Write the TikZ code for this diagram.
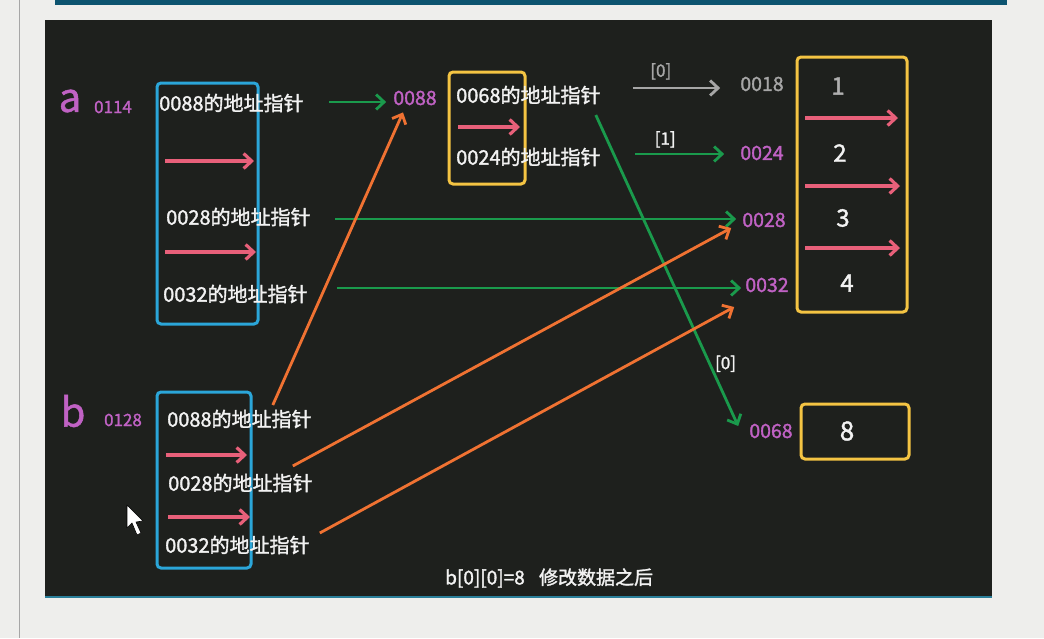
\documentclass[tikz,border=0pt]{standalone}
\usepackage{fontspec}
\setmainfont[FakeBold=1.6]{Noto Sans CJK SC}
\newfontfamily\plainfont[FakeBold=1.2]{Noto Sans CJK SC}
\usetikzlibrary{arrows.meta}
\definecolor{outerbg}{HTML}{EEEEEC}
\definecolor{panel}{HTML}{1E201D}
\definecolor{topbar}{HTML}{0D5470}
\definecolor{panelline}{HTML}{2A7F9A}
\definecolor{cyanb}{HTML}{2BA6D9}
\definecolor{yel}{HTML}{F4C443}
\definecolor{pinkc}{HTML}{E8607A}
\definecolor{grn}{HTML}{1A9A4C}
\definecolor{org}{HTML}{F07232}
\definecolor{mag}{HTML}{C062C4}
\definecolor{gry}{HTML}{A6A6A6}
\definecolor{wht}{HTML}{F2F2F2}
\begin{document}
\begin{tikzpicture}[x=1pt,y=-1pt,
  txt/.style={text=wht, font=\fontsize{20}{22}\selectfont, inner sep=0pt, anchor=west},
  addr/.style={text=mag, font=\fontsize{19.5}{22}\selectfont, inner sep=0pt},
  small/.style={text=mag, font=\fontsize{17}{19}\selectfont, inner sep=0pt},
  bigl/.style={text=mag, font=\plainfont\fontsize{40}{42}\selectfont, inner sep=0pt},
  num/.style={text=wht, font=\fontsize{24}{26}\selectfont, inner sep=0pt},
  idx/.style={font=\fontsize{17}{19}\selectfont, inner sep=0pt},
  bluebox/.style={draw=cyanb, line width=3pt, rounded corners=4pt, inner sep=0pt},
  yelbox/.style={draw=yel, line width=3pt, rounded corners=4pt, inner sep=0pt},
  tip/.style={-{Straight Barb[length=8pt,width=15pt]}},
  parrow/.style={draw=pinkc, line width=3.2pt, tip},
  garrow/.style={draw=grn, line width=2.8pt, tip},
  grarrow/.style={draw=gry, line width=2.8pt, tip},
  oarrow/.style={draw=org, line width=2.8pt, tip}
]
\useasboundingbox (0,0) rectangle (1044,638);
\fill[outerbg] (0,0) rectangle (1044,638);
\draw[gray!70, line width=1pt] (19,0) -- (19,638);
\fill[topbar] (55,0) rectangle (1007,5);
\fill[panel] (45,20) rectangle (992,597);
\draw[panelline, line width=1.5pt] (45,597) -- (992,597);

% boxes
\node[bluebox, minimum width=101pt, minimum height=241pt] (aBox) at (207.5,203.5) {};
\node[bluebox, minimum width=94pt, minimum height=176pt] (bBox) at (204,480) {};
\node[yelbox, minimum width=76pt, minimum height=112pt] (mBox) at (487,128) {};
\node[yelbox, minimum width=110pt, minimum height=255pt] (dBox) at (852,184.5) {};
\node[yelbox, minimum width=108pt, minimum height=55pt] (eBox) at (855,431.5) {};

% variable labels
\node[bigl] (la) at (70,101) {a};
\node[small] (a0114) at (113,107) {0114};
\node[bigl] (lb) at (73,411) {b};
\node[small] (b0128) at (123,420) {0128};

% texts
\node[txt] (aT1) at (159,103) {0088的地址指针};
\node[txt] (aT2) at (166,217) {0028的地址指针};
\node[txt] (aT3) at (163,294) {0032的地址指针};
\node[txt] (mT1) at (456,95) {0068的地址指针};
\node[txt] (mT2) at (456,157) {0024的地址指针};
\node[txt] (bT1) at (167,419) {0088的地址指针};
\node[txt] (bT2) at (168,483) {0028的地址指针};
\node[txt] (bT3) at (165,545) {0032的地址指针};

% addresses
\node[addr] (ad0088) at (415,98) {0088};
\node[addr, text=gry] (ad0018) at (762,84) {0018};
\node[addr] (ad0024) at (762,153) {0024};
\node[addr] (ad0028) at (764,220) {0028};
\node[addr] (ad0032) at (767,285) {0032};
\node[addr] (ad0068) at (771,431) {0068};

% numbers
\node[num, text=gry!90] (n1) at (838,86) {1};
\node[num] (n2) at (840,153) {2};
\node[num] (n3) at (843,218) {3};
\node[num] (n4) at (847,283) {4};
\node[num, font=\fontsize{26}{28}\selectfont] (n8) at (847,431) {8};

% caption
\node[text=wht, font=\fontsize{19}{21}\selectfont, inner sep=0pt, anchor=west] (cap) at (445,578) {b[0][0]=8\hspace{0.75em}修改数据之后};

% pink arrows
\coordinate (pa1s) at (165,161); \coordinate (pa1e) at (254,161);
\coordinate (pa2s) at (165,252); \coordinate (pa2e) at (256,252);
\coordinate (pm1s) at (458,127); \coordinate (pm1e) at (520,127);
\coordinate (pd1s) at (805,118); \coordinate (pd1e) at (898,118);
\coordinate (pd2s) at (805,186); \coordinate (pd2e) at (900,186);
\coordinate (pd3s) at (805,248); \coordinate (pd3e) at (900,248);
\coordinate (pb1s) at (166,455); \coordinate (pb1e) at (247,455);
\coordinate (pb2s) at (168,517); \coordinate (pb2e) at (250,517);
\foreach \p in {pa1,pa2,pm1,pd1,pd2,pd3,pb1,pb2}
  \draw[parrow] (\p s) -- (\p e);

% arrow start points (offsets from the texts)
\coordinate (g1) at ([xshift=25pt,yshift=1pt]aT1.east);
\coordinate (g2) at ([xshift=32pt,yshift=7pt]mT1.east);
\coordinate (g3) at ([xshift=34pt,yshift=3pt]mT2.east);
\coordinate (g4) at ([xshift=24pt,yshift=-2pt]aT2.east);
\coordinate (g5) at ([xshift=29pt,yshift=6pt]aT3.east);
\coordinate (g6) at ([xshift=-5pt,yshift=-20pt]mT1.east);
\coordinate (o1) at ([xshift=-39pt,yshift=14pt]bT1.east);
\coordinate (o2) at ([xshift=-20pt,yshift=17pt]bT2.east);
\coordinate (o3) at ([xshift=10pt,yshift=12pt]bT3.east);

% green / gray arrows
\draw[garrow] (g1) -- ([xshift=-7pt]ad0088.west |- g1);
\draw[grarrow] (g2) -- node[above=7pt, pos=0.32, idx, text=gry] (i0) {[0]} ([xshift=-20pt]ad0018.west |- g2);
\draw[garrow] (g3) -- node[above=5pt, pos=0.34, idx, text=wht] (i1) {[1]} ([xshift=-16pt]ad0024.west |- g3);
\draw[garrow] (g4) -- ([xshift=-6pt]ad0028.west |- g4);
\draw[garrow] (g5) -- ([xshift=-4pt]ad0032.west |- g5);
\draw[garrow] (g6) -- node[pos=0.8, right=4pt, idx, text=wht] (i2) {[0]} ([xshift=-11pt,yshift=5pt]ad0068.west);

% orange arrows
\draw[oarrow] (o1) -- ([xshift=-12pt,yshift=-7pt]ad0088.south);
\draw[oarrow] (o2) -- ([xshift=-11pt,yshift=-8pt]ad0028.west);
\draw[oarrow] (o3) -- ([xshift=-11pt,yshift=-22pt]ad0032.west);

% mouse cursor
\filldraw[fill=white, draw=black, line width=0.6pt, line join=round]
  (127,505) -- (127,528) -- (132,523) -- (137,535) -- (141,533) -- (136,522) -- (143,521) -- cycle;
\end{tikzpicture}
\end{document}
